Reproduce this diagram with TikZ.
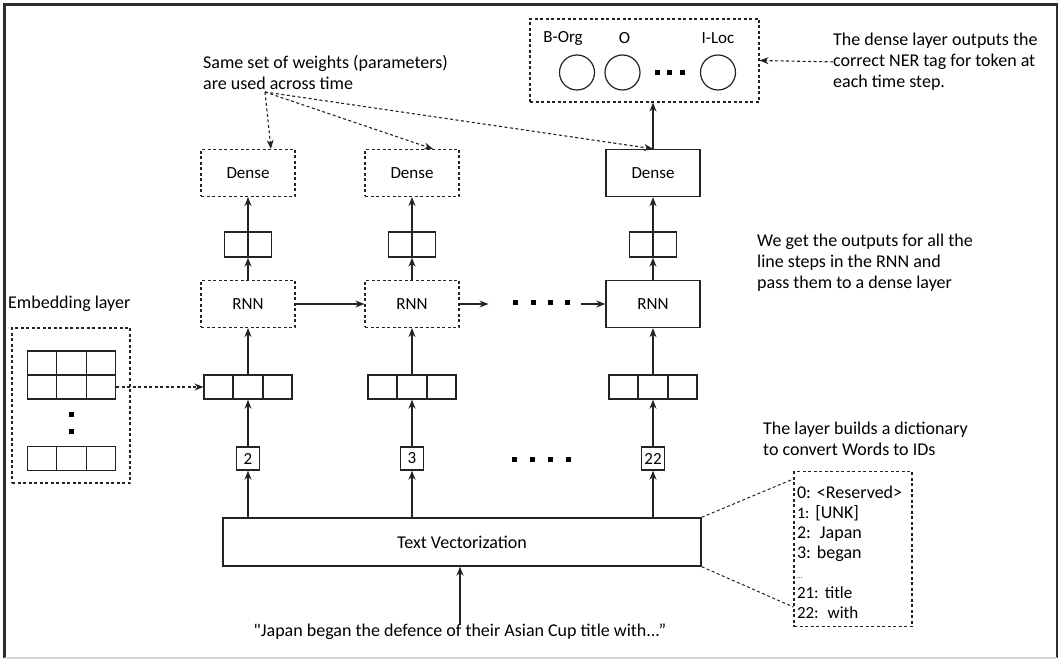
\documentclass[tikz,border=0pt]{standalone}
\usepackage{fontspec}
\setmainfont{Carlito}[Ligatures=TeXOff]
\usetikzlibrary{arrows.meta,positioning,shapes.multipart}
\definecolor{lineGray}{RGB}{35,35,35}
\definecolor{frameGray}{RGB}{45,45,45}
\definecolor{edgeGray}{RGB}{215,215,215}
\newcommand{\boxfont}{\fontsize{17}{20}\selectfont}
\newcommand{\notefont}{\fontsize{18}{21}\selectfont}
\newcommand{\dictfont}{\fontsize{18}{20}\selectfont}
\tikzset{
  layer/.style={draw=lineGray, line width=1.4pt, minimum width=94pt, minimum height=47pt, inner sep=0pt, font=\boxfont},
  shared/.style={layer, line width=1.1pt, dash pattern=on 3pt off 2.5pt},
  dashbox/.style={draw=lineGray, line width=1.1pt, dash pattern=on 3pt off 2.5pt, inner sep=0pt},
  hidden/.style={draw=lineGray, line width=1.4pt, minimum width=47pt, minimum height=25pt, inner sep=0pt},
  vecbox/.style={rectangle split, rectangle split horizontal, rectangle split parts=3, draw=lineGray, line width=1.4pt, inner sep=0pt,
    rectangle split empty part width=23.5pt, rectangle split empty part height=24pt, rectangle split empty part depth=0pt},
  token/.style={draw=lineGray, line width=1.4pt, minimum size=23pt, inner sep=1pt, font=\boxfont},
  unit/.style={circle, draw=lineGray, line width=1.2pt, minimum size=35pt, inner sep=0pt},
  tag/.style={font=\boxfont, inner sep=0pt},
  arrow/.style={-{Stealth[length=9pt,width=7pt]}, line width=1.3pt, draw=lineGray},
  darrow/.style={-{Stealth[length=9pt,width=7pt]}, line width=1.1pt, draw=lineGray, dash pattern=on 3pt off 2.5pt},
  dline/.style={line width=1pt, draw=lineGray, dash pattern=on 3pt off 2.5pt},
  note/.style={align=left, font=\notefont, inner sep=0pt}
}

\begin{document}
\frenchspacing
\begin{tikzpicture}[x=1pt,y=-1pt]
  \useasboundingbox (0,0) rectangle (1058,660);
  % outer frame
  \draw[frameGray, line width=3pt] (4.5,658) -- (4.5,4.5) -- (1057,4.5) -- (1057,658);
  \draw[edgeGray, line width=1.5pt] (4.5,658) -- (1057,658);

  % Dense layers
  \node[shared] (dense1) at (248,173) {Dense};
  \node[shared] (dense2) at (412,173) {Dense};
  \node[layer] (dense3) at (653,173) {Dense};

  % RNN outputs
  \node[hidden] (hid1) at (248,244.5) {};
  \node[hidden] (hid2) at (412,244.5) {};
  \node[hidden] (hid3) at (653,244.5) {};

  % RNN cells
  \node[shared] (rnn1) at (248,304) {RNN};
  \node[shared] (rnn2) at (412,304) {RNN};
  \node[layer] (rnn3) at (653,304) {RNN};

  % embedded tokens
  \node[vecbox] (vec1) at (248,387) {};
  \node[vecbox] (vec2) at (412,387) {};
  \node[vecbox] (vec3) at (653,387) {};

  % token ids
  \node[token] (tok1) at (248,458.5) {2};
  \node[token] (tok2) at (412,458.5) {3};
  \node[token] (tok3) at (653,458.5) {22};

  \node[layer, minimum width=478pt, minimum height=48pt, font=\notefont] (tv) at (462,542) {Text Vectorization};
  \node[note] (sent) at (460,632) {"Japan began the defence of their Asian Cup title with...”};

  % Embedding layer
  \node[note, anchor=west] (emblabel) at (8,304) {Embedding layer};
  \node[dashbox, minimum width=118pt, minimum height=155pt] (embbox) at (71,405.5) {};
  \node[vecbox] (erow1) at (71.5,363) {};
  \node[vecbox] (erow2) at (71.5,387) {};
  \node[vecbox] (erow3) at (71.5,458.5) {};
  \foreach \y in {414,431}
    \fill[black] (69,\y-2.5) rectangle (74,\y+2.5);

  % Output tags
  \node[dashbox, minimum width=229pt, minimum height=83pt] (outbox) at (644.5,60.5) {};
  \node[unit] (borg) at (577,72.5) {};
  \node[unit] (otag) at (622.5,72.5) {};
  \node[unit] (iloc) at (718,72.5) {};
  \node[tag] (lborg) at (563,38) {B-Org};
  \node[tag] (lotag) at (624.5,38) {O};
  \node[tag] (liloc) at (718,38) {I-Loc};
  \foreach \x in {657,669.5,682}
    \fill[black] (\x-2.5,70) rectangle (\x+2.5,75);

  % Notes
  \node[note, anchor=north west] (wnote) at (203,55) {Same set of weights (parameters)\\are used across time};
  \coordinate (wsrc) at (265,92);
  \node[note, anchor=north west] (ner) at (833,33) {The dense layer outputs the\\correct NER tag for token at\\each time step.};
  \node[note, anchor=north west] (rnote) at (757,234) {We get the outputs for all the\\line steps in the RNN and\\pass them to a dense layer};
  \node[note, anchor=north west] (dnote) at (763,422) {The layer builds a dictionary\\to convert Words to IDs};
  \node[dashbox, minimum width=118pt, minimum height=155pt, text width=112pt, inner xsep=3pt, align=left, font=\dictfont] (dict) at (853,549)
    {\rule{0pt}{20pt}0: <Reserved>\\{\fontsize{16}{20}\selectfont 1:} [UNK]\\2:\, Japan\\3: began\\{\scriptsize ...}\\{\fontsize{17}{20}\selectfont 21: title}\\{\fontsize{17}{20}\selectfont 22:\, with}};

  % Vertical flow
  \foreach \i in {1,2,3} {
    \draw[arrow] (tv.north -| tok\i) -- (tok\i);
    \draw[arrow] (tok\i) -- (vec\i);
    \draw[arrow] (vec\i) -- (rnn\i);
    \draw[arrow] (rnn\i) -- (hid\i);
    \draw[arrow] (hid\i.south) -- (dense\i);
  }
  \draw[arrow] (dense3.north) -- (dense3.north |- outbox.south);
  \draw[arrow] (sent.north -| tv.south) ++(-2,0) -- ([xshift=-2pt]tv.south);

  % Recurrence
  \draw[arrow] (rnn1) -- (rnn2);
  \draw[arrow] (rnn2.east) -- ++(29,0);
  \foreach \x in {515,533,550,567}
    \fill[black] (\x-2.5,300.5) rectangle (\x+2.5,305.5);
  \draw[arrow] ([xshift=-24pt]rnn3.west) -- (rnn3.west);
  \foreach \x in {514,532,550,568}
    \fill[black] (\x-2.5,456.5) rectangle (\x+2.5,461.5);

  % Dashed pointers
  \draw[darrow] (erow2.east) -- (vec1.west);
  \draw[darrow] (wsrc) -- ([xshift=23pt]dense1.north);
  \draw[darrow] (wsrc) -- ([xshift=21pt]dense2.north);
  \draw[darrow] (wsrc) -- (dense3.north);
  \draw[darrow] (ner.west) -- (outbox.east);
  \draw[dline] (tv.north east) -- ([yshift=-8pt]dict.north west);
  \draw[dline] (tv.south east) -- ([yshift=20pt]dict.south west);
\end{tikzpicture}
\end{document}
